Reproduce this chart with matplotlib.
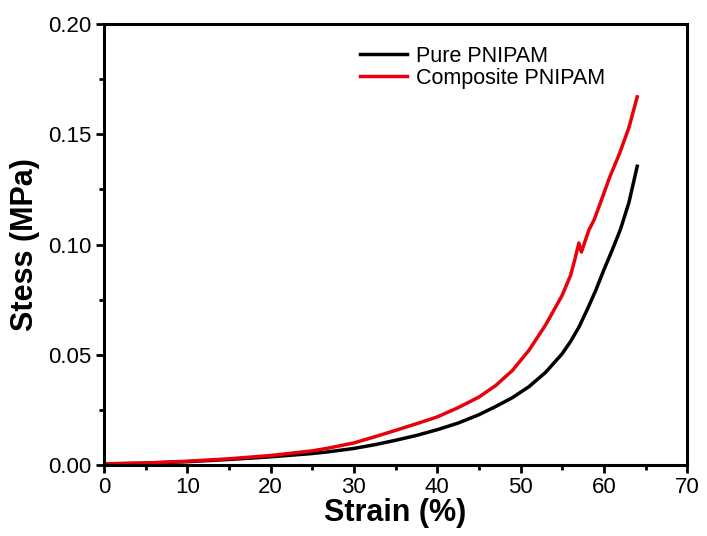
import numpy as np
import matplotlib.pyplot as plt
from matplotlib.ticker import MultipleLocator

plt.rcParams['font.family'] = ['Liberation Sans', 'DejaVu Sans']

# strain (%) / stress (MPa)
strain_pure = [0, 5, 10, 15, 20, 25, 27, 30, 32.5, 35, 37.5, 40, 42.5, 45, 47,
               49, 51, 53, 55, 56, 57, 58, 59, 60, 61, 62, 63, 64]
stress_pure = [0.0005, 0.0008, 0.0015, 0.0025, 0.0037, 0.0052, 0.0060, 0.0075,
               0.0092, 0.0112, 0.0134, 0.0160, 0.0190, 0.0228, 0.0265, 0.0305,
               0.0355, 0.0420, 0.0505, 0.0560, 0.0625, 0.0705, 0.0790, 0.0885,
               0.0975, 0.1070, 0.1190, 0.1355]

strain_comp = [0, 5, 10, 15, 20, 25, 27, 30, 32.5, 35, 37.5, 40, 42.5, 45, 47,
               49, 51, 53, 55, 56, 56.5, 57.0, 57.3, 58.2, 58.8, 59.4, 60.7,
               61.9, 63.0, 64]
stress_comp = [0.0005, 0.0009, 0.0017, 0.0028, 0.0043, 0.0064, 0.0077, 0.0100,
               0.0128, 0.0157, 0.0187, 0.0218, 0.0260, 0.0308, 0.0360, 0.0428,
               0.0520, 0.0635, 0.0770, 0.0860, 0.0930, 0.1007, 0.0966, 0.1066,
               0.1110, 0.1170, 0.1306, 0.1415, 0.1530, 0.1670]

fig = plt.figure(figsize=(7.07, 5.36), dpi=100)
ax = fig.add_axes([0.147, 0.1325, 0.825, 0.8225])

ax.plot(strain_pure, stress_pure, color='black', lw=2.5, label='Pure PNIPAM')
ax.plot(strain_comp, stress_comp, color='#e8000b', lw=2.5, label='Composite PNIPAM')

ax.set_xlim(0, 70)
ax.set_ylim(0, 0.20)
ax.xaxis.set_major_locator(MultipleLocator(10))
ax.xaxis.set_minor_locator(MultipleLocator(5))
ax.yaxis.set_major_locator(MultipleLocator(0.05))
ax.yaxis.set_minor_locator(MultipleLocator(0.025))
ax.yaxis.set_major_formatter(plt.FormatStrFormatter('%.2f'))

for s in ax.spines.values():
    s.set_linewidth(2.2)
ax.tick_params(which='major', direction='out', length=6, width=2, labelsize=16, pad=3)
ax.tick_params(which='minor', direction='out', length=3.5, width=2)

ax.set_xlabel('Strain (%)', fontsize=22, fontweight='bold', labelpad=0)
ax.set_ylabel('Stess (MPa)', fontsize=22, fontweight='bold', labelpad=6)

ax.legend(loc='upper left', bbox_to_anchor=(0.405, 0.995), frameon=False,
          fontsize=15.5, handlelength=2.2, handletextpad=0.4, labelspacing=0.05)

fig.savefig('out.png', dpi=100)
plt.close()
